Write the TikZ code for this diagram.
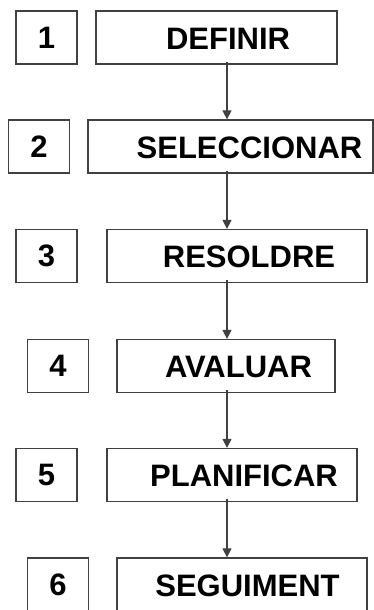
\documentclass[tikz,border=0pt]{standalone}
\usepackage{fontspec}
\setmainfont{Liberation Sans}
\usetikzlibrary{arrows.meta}
\tikzset{
	numbox/.style={draw=black!75, line width=1.2pt, minimum width=61pt, minimum height=53pt, inner sep=0pt, font=\fontsize{31}{31}\selectfont\bfseries},
	stepbox/.style={draw=black!75, line width=1.2pt, minimum height=53pt, inner sep=0pt},
	steplabel/.style={inner sep=0pt, font=\fontsize{31}{31}\selectfont\bfseries},
	flow/.style={draw=black!75, line width=1.1pt, -{Triangle[length=9pt,width=9pt]}}
}
\begin{document}
\begin{tikzpicture}[x=1pt,y=-1pt]
		\clip (0,0) rectangle (374,610);
		%numbers
		\node[numbox] (n1) at (46.5,37.5){1};
		\node[numbox] (n2) at (39,146.5){2};
		\node[numbox] (n3) at (46.5,256){3};
		\node[numbox] (n4) at (58,366){4};
		\node[numbox] (n5) at (46.5,475){5};
		\node[numbox] (n6) at (58,584.5){6};
		
		%steps
		\node[stepbox, minimum width=241pt] (s1) at (216.5,37.5){};
		\node[stepbox, minimum width=285pt] (s2) at (230.5,146.5){};
		\node[stepbox, minimum width=260pt] (s3) at (237,256){};
		\node[stepbox, minimum width=218pt] (s4) at (226,366){};
		\node[stepbox, minimum width=250pt] (s5) at (232,475){};
		\node[stepbox, minimum width=250pt] (s6) at (242,584.5){};
		
		\node[steplabel] (l1) at (228,38.5){DEFINIR};
		\node[steplabel] (l2) at (249.5,147.5){SELECCIONAR};
		\node[steplabel] (l3) at (249,257){RESOLDRE};
		\node[steplabel] (l4) at (238.5,367){AVALUAR};
		\node[steplabel] (l5) at (244,476){PLANIFICAR};
		\node[steplabel] (l6) at (247.5,585.5){SEGUIMENT};
		
		%arrows
		\coordinate (ax) at (227,0);
		\foreach \a/\b in {s1/s2, s2/s3, s3/s4, s4/s5, s5/s6}{
			\draw[flow] ([yshift=3pt]\a.south -| ax) -- (\b.north -| ax);
		}
\end{tikzpicture}
\end{document}
